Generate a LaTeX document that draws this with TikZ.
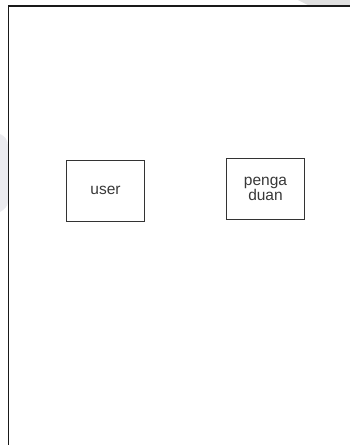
\documentclass[tikz,border=0pt]{standalone}
\usepackage{fontspec}
\setmainfont{Liberation Sans}
\begin{document}
\begin{tikzpicture}[x=1pt,y=-1pt,
  entitybox/.style={draw=black!80, line width=1pt, minimum width=77.5pt, minimum height=61pt,
    inner sep=0pt, align=center, text=black!78, font=\fontsize{15.5}{14.5}\selectfont},
  framestroke/.style={draw=black!90, line width=1.2pt}]
\useasboundingbox (0,0) rectangle (350,445);
% faint background marks
\fill[black!12] (298,0) -- (350,0) -- (350,6) -- (310,6) -- cycle;
\fill[blue!20!black!8] (0,134) .. controls (5,136) and (8,140) .. (8,146) -- (8,202) .. controls (8,206) and (4,210) .. (0,212) -- cycle;
% frame
\draw[framestroke] (350,6) -- (8.5,6) -- (8.5,445);
% entities
\node[entitybox] (user) at (105.5,190.5) {user};
\node[entitybox] (pengaduan) at (265.5,189) {penga\\duan};
\end{tikzpicture}
\end{document}
